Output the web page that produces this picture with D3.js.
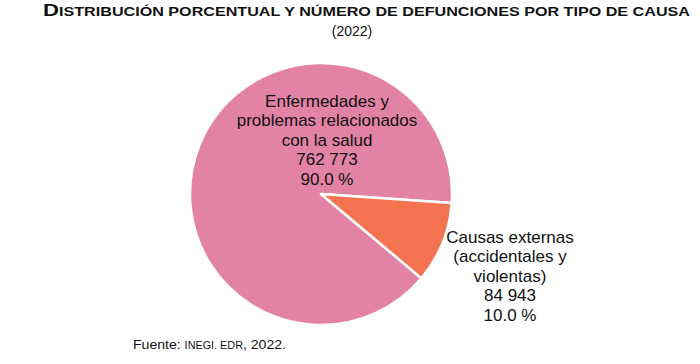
<!DOCTYPE html>
<html lang="es">
<head>
<meta charset="utf-8">
<title>Defunciones por tipo de causa</title>
<script src="https://cdn.jsdelivr.net/npm/d3@7"></script>
<style>
  body { margin: 0; background: #fff; }
  text { font-family: "Liberation Sans", Arial, sans-serif; fill: #111; }
</style>
</head>
<body>
<script>
// data
var causas = ["Enfermedades y problemas relacionados con la salud", "Causas externas (accidentales y violentas)"];
var defunciones = [762773, 84943];
var porcentajes = [90.0, 10.0];
var etiquetas = [
  ["Enfermedades y", "problemas relacionados", "con la salud"],
  ["Causas externas", "(accidentales y", "violentas)"]
];
var colores = ["#E283A5", "#F47452"];

var width = 700, height = 364;
var cx = 321, cy = 194, radius = 131;

var svg = d3.select("body").append("svg")
  .attr("width", width)
  .attr("height", height);

// title, drawn as small caps (big first letter, rest smaller capitals)
var title = svg.append("text")
  .attr("x", 43).attr("y", 16)
  .attr("textLength", 647)
  .attr("lengthAdjust", "spacingAndGlyphs")
  .style("font-weight", "bold");
title.append("tspan").style("font-size", "16.5px").text("D");
title.append("tspan").style("font-size", "12px")
  .text("ISTRIBUCIÓN PORCENTUAL Y NÚMERO DE DEFUNCIONES POR TIPO DE CAUSA");

svg.append("text")
  .attr("x", 352).attr("y", 36)
  .attr("text-anchor", "middle")
  .style("font-size", "14px")
  .text("(2022)");

// pie
var startA = 130 * Math.PI / 180;
var pie = d3.pie().sort(null)
  .startAngle(startA)
  .endAngle(startA + 2 * Math.PI);
var arc = d3.arc().innerRadius(0).outerRadius(radius);

var g = svg.append("g").attr("transform", "translate(" + cx + "," + cy + ")");
g.selectAll("path")
  .data(pie(defunciones))
  .enter().append("path")
    .attr("d", arc)
    .attr("fill", function (d, i) { return colores[i]; })
    .attr("stroke", "#fff")
    .attr("stroke-width", 2.5)
    .attr("stroke-linejoin", "round");

// labels
var fmt = function (v) { return d3.format(",")(v).replace(/,/g, " "); };
var labelPos = [[327, 106.5], [510, 242.5]];
etiquetas.forEach(function (lines, i) {
  var all = lines.concat([fmt(defunciones[i]), d3.format(".1f")(porcentajes[i]) + " %"]);
  var t = svg.append("text")
    .attr("x", labelPos[i][0]).attr("y", labelPos[i][1])
    .attr("text-anchor", "middle")
    .style("font-size", "17px");
  t.selectAll("tspan")
    .data(all)
    .enter().append("tspan")
      .attr("x", labelPos[i][0])
      .attr("dy", function (d, j) { return j === 0 ? 0 : 19.6; })
      .text(function (d) { return d; });
});

// source note
var src = svg.append("text")
  .attr("x", 133).attr("y", 349)
  .attr("textLength", 153)
  .attr("lengthAdjust", "spacingAndGlyphs")
  .style("font-size", "13px");
src.append("tspan").text("Fuente: ");
src.append("tspan").style("font-size", "10px").text("INEGI. EDR");
src.append("tspan").text(", 2022.");
</script>
</body>
</html>
